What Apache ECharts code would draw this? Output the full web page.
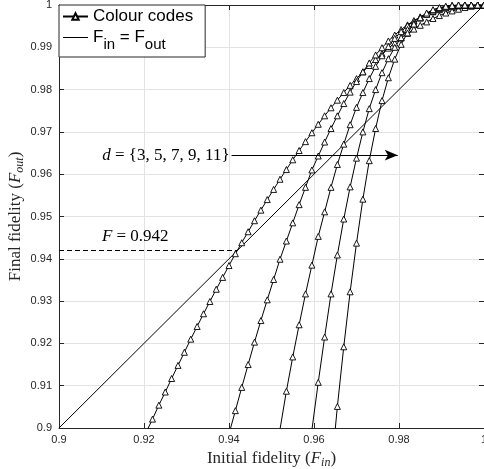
<!DOCTYPE html>
<html>
<head>
<meta charset="utf-8">
<script src="https://cdn.jsdelivr.net/npm/echarts@6/dist/echarts.min.js"></script>
<style>
html, body { margin: 0; padding: 0; background: #fff; }
#chart { width: 484px; height: 469px; }
</style>
</head>
<body>
<div id="chart"></div>
<script>
// F_in, F_out pairs (one pair per marker)
var dist3 = [[0.9205,0.8990],[0.922,0.9021],[0.9235,0.9054],[0.925,0.9085],[0.9265,0.9117],[0.928,0.9148],[0.9295,0.9179],
  [0.931,0.9210],[0.9325,0.9240],[0.934,0.9270],[0.9355,0.9299],[0.937,0.9328],[0.9385,0.9356],[0.94,0.9384],
  [0.9415,0.9412],[0.943,0.9438],[0.9445,0.9464],[0.946,0.9490],[0.9475,0.9515],[0.949,0.9540],[0.9505,0.9564],
  [0.952,0.9588],[0.9535,0.9611],[0.955,0.9634],[0.9565,0.9656],[0.958,0.9677],[0.9595,0.9698],[0.961,0.9718],
  [0.9625,0.9738],[0.964,0.9757],[0.9655,0.9775],[0.967,0.9793],[0.9685,0.9810],[0.97,0.9826],[0.9715,0.9842],
  [0.973,0.9857],[0.9745,0.9871],[0.976,0.9885],[0.9775,0.9898],[0.979,0.9910],[0.9805,0.9922],[0.982,0.9933],
  [0.9835,0.9943],[0.985,0.9952],[0.9865,0.9960],[0.988,0.9968],[0.9895,0.9975],[0.991,0.9981],[0.9925,0.9986],
  [0.994,0.9990],[0.9955,0.9994],[0.997,0.9997],[0.9985,0.9999],[1.0,1.0]];
var dist5 = [[0.94,0.8986],[0.9415,0.9041],[0.943,0.9096],[0.9445,0.9150],[0.946,0.9203],[0.9475,0.9254],[0.949,0.9303],
  [0.9505,0.9351],[0.952,0.9399],[0.9535,0.9442],[0.955,0.9485],[0.9565,0.9528],[0.958,0.9569],[0.9595,0.9610],
  [0.961,0.9643],[0.9625,0.9676],[0.964,0.9708],[0.9655,0.9738],[0.967,0.9767],[0.9685,0.9794],[0.97,0.9819],
  [0.9715,0.9842],[0.973,0.9863],[0.9745,0.9882],[0.976,0.9899],[0.9775,0.9915],[0.979,0.9929],[0.9805,0.9942],
  [0.982,0.9953],[0.9835,0.9963],[0.985,0.9971],[0.9865,0.9978],[0.988,0.9984],[0.9895,0.9989],[0.991,0.9993],
  [0.9925,0.9996],[0.994,0.9998],[0.9955,0.9999],[0.997,1.0],[0.9985,1.0],[1.0,1.0]];
var dist7 = [[0.952,0.8997],[0.9535,0.9087],[0.955,0.9168],[0.9565,0.9244],[0.958,0.9317],[0.9595,0.9385],[0.961,0.9453],
  [0.9625,0.9511],[0.964,0.9569],[0.9655,0.9623],[0.967,0.9671],[0.9685,0.9717],[0.97,0.9758],[0.9715,0.9793],
  [0.973,0.9826],[0.9745,0.9855],[0.976,0.9880],[0.9775,0.9902],[0.979,0.9921],[0.9805,0.9937],[0.982,0.9951],
  [0.9835,0.9962],[0.985,0.9972],[0.9865,0.9980],[0.988,0.9986],[0.9895,0.9991],[0.991,0.9995],[0.9925,0.9998],
  [0.994,0.9999],[0.9955,1.0],[0.997,1.0],[0.9985,1.0],[1.0,1.0]];
var dist9 = [[0.9595,0.8995],[0.961,0.9108],[0.9625,0.9215],[0.964,0.9317],[0.9655,0.9409],[0.967,0.9494],[0.9685,0.9570],
  [0.97,0.9638],[0.9715,0.9700],[0.973,0.9755],[0.9745,0.9800],[0.976,0.9840],[0.9775,0.9873],[0.979,0.9900],
  [0.9805,0.9923],[0.982,0.9942],[0.9835,0.9957],[0.985,0.9969],[0.9865,0.9978],[0.988,0.9986],[0.9895,0.9992],
  [0.991,0.9996],[0.9925,0.9999],[0.994,1.0],[0.9955,1.0],[0.997,1.0],[0.9985,1.0],[1.0,1.0]];
var dist11 = [[0.964,0.8890],[0.9655,0.9051],[0.967,0.9192],[0.9685,0.9322],[0.97,0.9437],[0.9715,0.9541],[0.973,0.9632],
  [0.9745,0.9708],[0.976,0.9774],[0.9775,0.9828],[0.979,0.9872],[0.9805,0.9907],[0.982,0.9934],[0.9835,0.9955],
  [0.985,0.9970],[0.9865,0.9981],[0.988,0.9989],[0.9895,0.9994],[0.991,0.9997],[0.9925,0.9999],[0.994,1.0],
  [0.9955,1.0],[0.997,1.0],[0.9985,1.0],[1.0,1.0]];
var identity = [[0.9,0.9],[1.0,1.0]];
var threshold = 0.942;
var arrowY = 0.9645;
var arrowFrom = 0.9406, arrowTo = 0.9797;

var sans = 'Liberation Sans';
var serif = 'Liberation Serif';
var axisCol = '#262626';

var myChart = echarts.init(document.getElementById('chart'));

function codeSeries(data) {
	return {
		type : 'line',
		name : 'Colour codes',
		data : data,
		symbol : 'triangle',
		symbolSize : 6,
		showAllSymbol : true,
		clip : true,
		lineStyle : { color : '#000', width : 1 },
		itemStyle : { color : '#fff', borderColor : '#000', borderWidth : 0.9 },
		z : 3
	};
}

var nameRich = {
	it : { fontFamily : serif, fontStyle : 'italic', fontSize : 17 },
	sb : { fontFamily : serif, fontStyle : 'italic', fontSize : 12, padding : [8, 0, 0, 0] }
};

var option = {
	animation : false,
	grid : { left : 59, right : 0, top : 5, bottom : 41, outerBoundsMode : 'none', containLabel : false },
	legend : {
		left : 59,
		top : 5,
		orient : 'vertical',
		data : [
			{ name : 'Colour codes' },
			{ name : 'identity', itemStyle : { opacity : 0 }, lineStyle : { color : '#000', width : 1 } }
		],
		backgroundColor : '#fff',
		borderColor : axisCol,
		borderWidth : 1,
		borderRadius : 0,
		padding : [3, 12, 5, 3],
		itemGap : 4,
		itemWidth : 25,
		itemHeight : 8,
		formatter : function(name) {
			if (name === 'identity') return 'F{sub|in} = F{sub|out}';
			return name;
		},
		textStyle : {
			fontFamily : sans, fontSize : 17, color : '#000',
			rich : { sub : { fontFamily : sans, fontSize : 15, padding : [14, 0, 0, 0] } }
		}
	},
	xAxis : [{
		type : 'value', min : 0.9, max : 1, interval : 0.02,
		name : 'Initial fidelity ({it|F}{sb|in})',
		nameLocation : 'middle', nameGap : 20,
		nameTextStyle : { fontFamily : serif, fontSize : 17, color : '#262626', rich : nameRich },
		axisLine : { lineStyle : { color : axisCol } },
		axisTick : { inside : true, length : 5, lineStyle : { color : axisCol } },
		axisLabel : { fontFamily : sans, fontSize : 11, color : axisCol, margin : 6 },
		splitLine : { lineStyle : { color : '#e3e3e3' } }
	}, {
		type : 'value', position : 'top', min : 0.9, max : 1, interval : 0.02,
		axisLine : { lineStyle : { color : axisCol } },
		axisTick : { inside : true, length : 5, lineStyle : { color : axisCol } },
		axisLabel : { show : false },
		splitLine : { show : false }
	}],
	yAxis : [{
		type : 'value', min : 0.9, max : 1, interval : 0.01,
		name : 'Final fidelity ({it|F}{sb|out})',
		nameLocation : 'middle', nameGap : 33, nameMoveOverlap : false,
		nameTextStyle : { fontFamily : serif, fontSize : 17, color : '#262626', rich : nameRich },
		axisLine : { lineStyle : { color : axisCol } },
		axisTick : { inside : true, length : 5, lineStyle : { color : axisCol } },
		axisLabel : { fontFamily : sans, fontSize : 11, color : axisCol, margin : 7 },
		splitLine : { lineStyle : { color : '#e3e3e3' } }
	}, {
		type : 'value', position : 'right', min : 0.9, max : 1, interval : 0.01,
		axisLine : { lineStyle : { color : axisCol } },
		axisTick : { inside : true, length : 5, lineStyle : { color : axisCol } },
		axisLabel : { show : false },
		splitLine : { show : false }
	}],
	series : [
		codeSeries(dist3),
		codeSeries(dist5),
		codeSeries(dist7),
		codeSeries(dist9),
		codeSeries(dist11),
		{
			type : 'line',
			name : 'identity',
			data : identity,
			symbol : 'none',
			itemStyle : { color : '#000' },
			lineStyle : { color : '#000', width : 1 },
			z : 2,
			markLine : {
				silent : true,
				animation : false,
				data : [
					[{ coord : [0.9, threshold], symbol : 'none',
						lineStyle : { type : [5, 3], color : '#000', width : 1 },
						label : { show : true, position : 'insideMiddleTop', distance : 5,
							padding : [0, 26, 0, 0],
							formatter : '{it|F} = 0.942',
							fontFamily : serif, fontSize : 17, color : '#000',
							rich : { it : { fontFamily : serif, fontStyle : 'italic', fontSize : 17 } } } },
					 { coord : [threshold, threshold], symbol : 'none' }],
					[{ coord : [arrowFrom, arrowY], symbol : 'none',
						lineStyle : { type : 'solid', color : '#000', width : 1 },
						label : { show : true, position : 'start', distance : 2,
							formatter : '{it|d} = {3, 5, 7, 9, 11}',
							fontFamily : serif, fontSize : 17, color : '#000',
							rich : { it : { fontFamily : serif, fontStyle : 'italic', fontSize : 17 } } } },
					 { coord : [arrowTo, arrowY], symbol : 'arrow', symbolSize : [8, 13] }]
				]
			}
		}
	]
};
myChart.setOption(option, true);
</script>
</body>
</html>
